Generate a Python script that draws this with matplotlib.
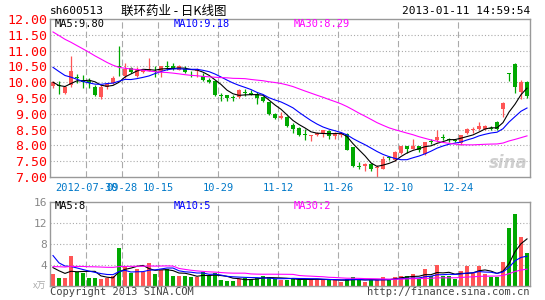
import numpy as np
import matplotlib
matplotlib.use('Agg')
import matplotlib.pyplot as plt

plt.rcParams['lines.scale_dashes'] = False

# 80 daily sessions, last one 2013-01-11
opens = [9.88, 9.92, 9.66, 9.90, 10.16, 10.07, 10.03, 9.84, 9.53, 9.85,
         9.97, 10.50, 10.20, 10.45, 10.19, 10.31, 10.37, 10.36, 10.37, 10.52,
         10.50, 10.40, 10.42, 10.30, 10.35, 10.20, 10.08, 10.03, 9.58, 9.59,
         9.52, 9.53, 9.68, 9.67, 9.63, 9.53, 9.37, 9.00, 8.86, 8.90,
         8.66, 8.55, 8.36, 8.30, 8.32, 8.40, 8.45, 8.30, 8.32, 8.36,
         7.94, 7.36, 7.36, 7.42, 7.28, 7.26, 7.62, 7.55, 7.76, 7.97,
         7.90, 7.97, 7.72, 8.13, 8.16, 8.28, 8.19, 8.16, 8.09, 8.40,
         8.50, 8.53, 8.52, 8.54, 8.74, 9.16, 10.29, 10.57, 9.68, 10.02]
closes = [10.00, 9.87, 9.85, 10.37, 10.13, 10.00, 9.97, 9.59, 9.84, 9.95,
          10.14, 10.47, 10.43, 10.32, 10.42, 10.40, 10.42, 10.34, 10.50, 10.49,
          10.42, 10.50, 10.31, 10.28, 10.42, 10.08, 10.00, 9.59, 9.56, 9.51,
          9.51, 9.75, 9.66, 9.60, 9.51, 9.42, 8.98, 8.88, 8.93, 8.62,
          8.53, 8.34, 8.34, 8.32, 8.40, 8.49, 8.30, 8.36, 8.38, 7.87,
          7.36, 7.33, 7.41, 7.26, 7.32, 7.56, 7.60, 7.79, 7.97, 7.88,
          7.97, 7.87, 8.11, 8.10, 8.27, 8.25, 8.17, 8.13, 8.32, 8.53,
          8.51, 8.62, 8.61, 8.52, 8.51, 9.35, 10.28, 9.86, 10.02, 9.55]
highs = [10.05, 10.03, 9.87, 10.84, 10.27, 10.24, 10.14, 9.92, 9.92, 9.98,
         10.20, 11.15, 10.60, 10.48, 10.48, 10.42, 10.78, 10.52, 10.52, 10.66,
         10.62, 10.55, 10.52, 10.37, 10.45, 10.29, 10.13, 10.05, 9.66, 9.61,
         9.58, 9.77, 9.77, 9.74, 9.70, 9.56, 9.37, 9.03, 9.07, 8.93,
         8.71, 8.57, 8.52, 8.32, 8.43, 8.49, 8.49, 8.41, 8.41, 8.38,
         7.96, 7.47, 7.43, 7.44, 7.38, 7.68, 7.66, 7.81, 7.99, 7.99,
         8.19, 7.99, 8.12, 8.20, 8.48, 8.36, 8.25, 8.19, 8.34, 8.56,
         8.58, 8.75, 8.64, 8.60, 8.77, 9.37, 10.29, 10.60, 10.07, 10.05]
lows = [9.82, 9.62, 9.62, 9.85, 9.96, 9.83, 9.82, 9.55, 9.48, 9.80,
        9.95, 10.20, 10.12, 10.28, 10.15, 10.29, 10.35, 10.16, 10.16, 10.40,
        10.38, 10.38, 10.29, 10.18, 10.18, 10.03, 9.98, 9.57, 9.42, 9.42,
        9.41, 9.49, 9.56, 9.58, 9.32, 9.38, 8.95, 8.83, 8.82, 8.59,
        8.40, 8.31, 8.17, 8.13, 8.30, 8.28, 8.20, 8.20, 8.26, 7.84,
        7.31, 7.26, 7.20, 7.19, 7.00, 7.25, 7.53, 7.52, 7.74, 7.75,
        7.88, 7.80, 7.70, 8.05, 8.12, 8.16, 8.10, 8.10, 8.00, 8.37,
        8.40, 8.50, 8.49, 8.49, 8.48, 8.90, 10.05, 9.66, 9.48, 9.50]
# volume, 万手
vols = [2.2, 1.5, 1.5, 5.65, 2.7, 2.5, 1.6, 1.5, 1.3, 1.5,
        1.85, 7.3, 3.9, 2.5, 3.2, 2.7, 4.3, 2.2, 3.0, 3.3,
        1.85, 2.0, 2.0, 1.7, 1.7, 2.7, 1.85, 2.5, 1.2, 0.95,
        0.95, 1.4, 1.5, 1.35, 1.5, 1.9, 1.8, 1.3, 1.2, 1.2,
        1.4, 1.1, 1.4, 1.1, 1.4, 1.2, 1.1, 1.1, 0.75, 1.4,
        1.7, 1.2, 0.75, 1.1, 1.2, 1.7, 1.2, 1.7, 2.0, 2.0,
        2.2, 1.4, 3.2, 2.0, 4.0, 1.85, 2.0, 1.4, 2.8, 3.9,
        2.5, 3.9, 2.2, 1.7, 1.7, 4.6, 11.0, 13.65, 9.3, 6.3]

# 29 sessions before the window, only to seed the moving averages
prev_closes = [13.3, 13.4, 13.2, 13.3, 13.1, 13.2, 13.0, 12.9, 13.1, 12.8, 12.5,
               11.3, 11.0, 10.9, 11.1, 11.2, 10.9, 11.0, 10.8, 11.0,
               11.2, 11.1, 10.9, 10.8, 10.7,
               10.4, 10.0, 9.9, 9.7]
prev_vols = [2.4, 3.1, 2.2, 2.8, 2.5, 3.4, 2.0, 2.6, 2.9, 2.3,
             2.7, 3.0, 2.1, 2.6, 2.8, 2.4, 3.2, 2.5, 2.6, 2.9,
             15.5, 7.5, 6.5, 5.5, 5.5,
             4.5, 4.0, 3.6, 3.2]

tick_pos = [6, 12, 18, 28, 38, 48, 58, 68]
tick_labels = ['2012-07-30', '09-28', '10-15', '10-29', '11-12', '11-26', '12-10', '12-24']

price_labels = ['MA5:9.80', 'MA10:9.18', 'MA30:8.29']
vol_labels = ['MA5:8', 'MA10:5', 'MA30:2']

RED = '#ff5555'
GREEN = '#00a800'
MA_COLORS = ['black', '#0000ff', '#ff00ff']
MONO = 'DejaVu Sans Mono'
CJK = ['Noto Sans CJK SC', 'DejaVu Sans']


def moving_avg(prev, cur, n):
    allv = np.array(prev + cur, dtype=float)
    out = np.convolve(allv, np.ones(n) / n, mode='valid')
    return out[len(out) - len(cur):]


W, H = 545, 300
fig = plt.figure(figsize=(W / 100, H / 100), dpi=100)
ax = fig.add_axes([50 / W, 1 - 177 / H, 480 / W, 158 / H])
axv = fig.add_axes([50 / W, 1 - 286 / H, 480 / W, 84 / H])

x = np.arange(len(closes))
o = np.array(opens)
c = np.array(closes)
colors = np.where(c >= o, RED, GREEN)

# candles
ax.vlines(x, lows, highs, colors=colors, lw=0.9, zorder=2)
body = np.maximum(np.abs(c - o), 0.025)
ax.bar(x, body, bottom=np.minimum(o, c) - (body - np.abs(c - o)) / 2,
       width=0.8, color=colors, linewidth=0, zorder=2)

for n, col in zip([5, 10, 30], MA_COLORS):
    ax.plot(x, moving_avg(prev_closes, closes, n), color=col, lw=0.8, zorder=3)

# volume
axv.bar(x, vols, width=0.78, color=colors, linewidth=0, zorder=2)
for n, col in zip([5, 10, 30], MA_COLORS):
    axv.plot(x, moving_avg(prev_vols, vols, n), color=col, lw=0.8, zorder=3)

grid_x = [p - 0.5 for p in tick_pos]
for a in (ax, axv):
    a.set_xlim(-0.5, len(closes) - 0.5)
    for gx in grid_x:
        a.axvline(gx, color='#aaaaaa', lw=0.8, dashes=(4.5, 2.2), zorder=1)
    for s in a.spines.values():
        s.set_color('#999999')
        s.set_linewidth(1)
    a.tick_params(length=0)

ax.set_ylim(7, 12)
yt = np.arange(7, 12.01, 0.5)
ax.set_yticks(yt)
ax.set_yticklabels(['%.2f' % v for v in yt], color='red', family=MONO, fontsize=9.5)
ax.tick_params(axis='y', pad=2)
for v in yt[1:-1]:
    ax.axhline(v, color='#aaaaaa', lw=0.8, dashes=(0.8, 1.5), zorder=1)
ax.set_xticks(grid_x)
ax.set_xticklabels(tick_labels, color='#0078c8', family=MONO, fontsize=7.5)
ax.tick_params(axis='x', pad=4)

axv.set_ylim(0, 16)
axv.set_yticks([4, 8, 12, 16])
axv.set_yticklabels(['4', '8', '12', '16'], color='#888888', family=MONO, fontsize=8)
axv.tick_params(axis='y', pad=2)
for v in [4, 8, 12]:
    axv.axhline(v, color='#aaaaaa', lw=0.8, dashes=(0.8, 1.5), zorder=1)
axv.set_xticks([])


def ftext(px, py, s, **kw):
    fig.text(px / W, 1 - py / H, s, va='center', **kw)


ftext(50, 11, 'sh600513', family=MONO, fontsize=8)
ftext(121, 11, '联环药业 - 日K线图', family=CJK, fontsize=9)
ftext(530, 11, '2013-01-11 14:59:54', family=MONO, fontsize=8, ha='right')
for px, s, col in zip([55, 174, 294], price_labels, MA_COLORS):
    ftext(px, 24, s, family=MONO, fontsize=7.5, color=col)
for px, s, col in zip([55, 174, 294], vol_labels, MA_COLORS):
    ftext(px, 206, s, family=MONO, fontsize=7.5, color=col)
ftext(46, 286, 'x万', family=CJK, fontsize=6.5, color='#aaaaaa', ha='right')
ftext(50, 292, 'Copyright 2013 SINA.COM', family=MONO, fontsize=7.5, color='#444444')
ftext(530, 292, 'http://finance.sina.com.cn', family=MONO, fontsize=7.5, color='#444444', ha='right')
ax.text(0.955, 0.09, 'sina', transform=ax.transAxes, ha='center', va='center',
        fontsize=12, style='italic', fontweight='bold', color='#bbbbbb', alpha=0.7, zorder=1)

fig.savefig('out.png', dpi=100)
